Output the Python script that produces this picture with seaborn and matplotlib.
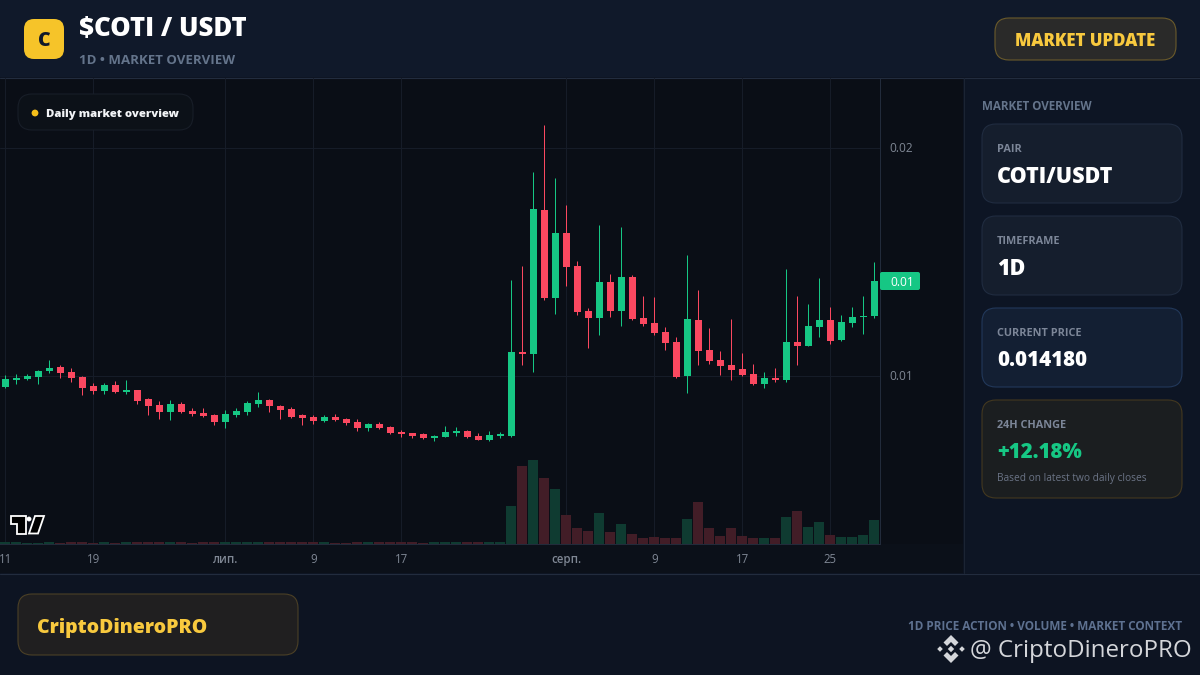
import numpy as np
import pandas as pd
import matplotlib
matplotlib.use('Agg')
import matplotlib.pyplot as plt
import seaborn as sns
from matplotlib.patches import FancyBboxPatch, Polygon, Circle, Rectangle
from matplotlib.transforms import ScaledTranslation

# daily candles, 11 Jun - 29 Aug
days = list(range(80))
open_ = [0.00952, 0.00982, 0.00987, 0.00996, 0.01022, 0.01039, 0.01018, 0.00996, 0.00956, 0.00934,
         0.00961, 0.00930, 0.00939, 0.00899, 0.00873, 0.00842, 0.00877, 0.00846, 0.00838, 0.00829,
         0.00798, 0.00829, 0.00842, 0.00877, 0.00895, 0.00868, 0.00855, 0.00829, 0.00820, 0.00803,
         0.00820, 0.00811, 0.00798, 0.00772, 0.00789, 0.00776, 0.00754, 0.00750, 0.00746, 0.00728,
         0.00732, 0.00750, 0.00759, 0.00737, 0.00719, 0.00737, 0.00737, 0.01105, 0.01096, 0.01728,
         0.01342, 0.01627, 0.01482, 0.01285, 0.01254, 0.01412, 0.01285, 0.01434, 0.01254, 0.01232,
         0.01193, 0.01149, 0.01000, 0.01246, 0.01114, 0.01070, 0.01048, 0.01031, 0.01009, 0.00965,
         0.00991, 0.00982, 0.01149, 0.01132, 0.01215, 0.01246, 0.01158, 0.01232, 0.01259, 0.01263]
high = [0.01004, 0.01009, 0.01009, 0.01026, 0.01070, 0.01048, 0.01035, 0.01000, 0.00969, 0.00969,
        0.00978, 0.00982, 0.00939, 0.00904, 0.00890, 0.00895, 0.00886, 0.00860, 0.00860, 0.00833,
        0.00851, 0.00860, 0.00890, 0.00930, 0.00899, 0.00873, 0.00864, 0.00833, 0.00829, 0.00829,
        0.00833, 0.00816, 0.00811, 0.00794, 0.00798, 0.00781, 0.00763, 0.00750, 0.00750, 0.00741,
        0.00781, 0.00776, 0.00763, 0.00750, 0.00759, 0.00754, 0.01421, 0.01482, 0.01895, 0.02101,
        0.01868, 0.01750, 0.01504, 0.01298, 0.01662, 0.01447, 0.01654, 0.01443, 0.01351, 0.01346,
        0.01215, 0.01171, 0.01531, 0.01377, 0.01211, 0.01110, 0.01250, 0.01101, 0.01053, 0.01018,
        0.01035, 0.01469, 0.01351, 0.01316, 0.01430, 0.01303, 0.01268, 0.01303, 0.01351, 0.01500]
low = [0.00947, 0.00965, 0.00982, 0.00965, 0.01013, 0.00991, 0.00974, 0.00917, 0.00921, 0.00921,
       0.00925, 0.00921, 0.00877, 0.00829, 0.00811, 0.00807, 0.00838, 0.00825, 0.00820, 0.00785,
       0.00772, 0.00820, 0.00829, 0.00864, 0.00842, 0.00811, 0.00816, 0.00785, 0.00789, 0.00798,
       0.00803, 0.00785, 0.00759, 0.00759, 0.00768, 0.00746, 0.00732, 0.00728, 0.00724, 0.00715,
       0.00732, 0.00737, 0.00728, 0.00719, 0.00715, 0.00728, 0.00732, 0.01048, 0.01018, 0.01333,
       0.01272, 0.01395, 0.01268, 0.01123, 0.01180, 0.01259, 0.01219, 0.01246, 0.01219, 0.01180,
       0.01114, 0.00991, 0.00925, 0.01048, 0.01053, 0.01004, 0.00982, 0.01000, 0.00961, 0.00947,
       0.00974, 0.00974, 0.01048, 0.01132, 0.01171, 0.01140, 0.01154, 0.01215, 0.01184, 0.01254]
close = [0.00987, 0.00991, 0.01000, 0.01022, 0.01035, 0.01013, 0.00991, 0.00947, 0.00934, 0.00961,
         0.00930, 0.00939, 0.00890, 0.00868, 0.00842, 0.00877, 0.00842, 0.00833, 0.00825, 0.00798,
         0.00833, 0.00846, 0.00882, 0.00895, 0.00868, 0.00851, 0.00820, 0.00816, 0.00803, 0.00820,
         0.00807, 0.00794, 0.00772, 0.00789, 0.00772, 0.00750, 0.00746, 0.00737, 0.00728, 0.00737,
         0.00754, 0.00759, 0.00732, 0.00719, 0.00741, 0.00746, 0.01105, 0.01096, 0.01732, 0.01342,
         0.01627, 0.01478, 0.01281, 0.01254, 0.01412, 0.01285, 0.01434, 0.01250, 0.01228, 0.01189,
         0.01145, 0.00996, 0.01250, 0.01110, 0.01066, 0.01044, 0.01026, 0.01004, 0.00965, 0.00991,
         0.00982, 0.01149, 0.01132, 0.01219, 0.01246, 0.01154, 0.01237, 0.01259, 0.01263, 0.01418]
# volume in millions
volume = [2, 2, 1, 1, 2, 1, 2, 2, 1, 2,
          1, 2, 2, 2, 2, 2, 2, 1, 2, 2,
          2, 2, 2, 2, 2, 2, 2, 2, 2, 2,
          1, 1, 2, 2, 2, 2, 2, 2, 1, 2,
          2, 2, 2, 2, 2, 2, 38, 78, 84, 66,
          55, 29, 16, 13, 31, 12, 20, 10, 6, 7,
          6, 6, 25, 42, 16, 8, 16, 8, 6, 6,
          6, 27, 33, 17, 22, 9, 7, 7, 9, 24]

date_ticks = [0, 8, 20, 28, 36, 51, 59, 67, 75]
date_labels = ['11', '19', 'лип.', '9', '17', 'серп.', '9', '17', '25']
price_ticks = [0.01, 0.02]

UP = '#16c784'
DOWN = '#fb4860'
VOL_UP = '#0f3b31'
VOL_DOWN = '#421d27'
GRID = '#161c28'
AXIS = '#222b3b'
TICK = '#7f8794'

sns.set_theme(style='dark')
plt.rcParams['font.family'] = ['Open Sans', 'DejaVu Sans']

df = pd.DataFrame({'day': days, 'open': open_, 'high': high, 'low': low, 'close': close, 'volume': volume})
df['dir'] = np.where(df['close'] >= df['open'], 'up', 'down')
df['body'] = (df['close'] - df['open']).abs()
df['base'] = df[['open', 'close']].min(axis=1)

fig = plt.figure(figsize=(12, 6.75), dpi=100, facecolor='#0d1422')


def box(a, x0, y0, x1, y1, fill, edge, r=14, lw=0.8):
    a.add_patch(FancyBboxPatch((x0 + r, y0 + r), x1 - x0 - 2 * r, y1 - y0 - 2 * r,
                               boxstyle=f'round,pad={r},rounding_size={r}',
                               facecolor=fill, edgecolor=edge, linewidth=lw))


# page furniture sits in a pixel coordinate axes behind the chart
ui = fig.add_axes([0, 0, 1, 1], zorder=0)
ui.set_xlim(0, 1200)
ui.set_ylim(675, 0)
ui.axis('off')
ui.add_patch(Rectangle((0, 0), 1200, 77, color='#10192a', lw=0))
ui.add_patch(Rectangle((0, 78), 963, 495, color='#0a0e16', lw=0))
ui.add_patch(Rectangle((0, 544), 963, 29, color='#0b1019', lw=0))
ui.add_patch(Rectangle((964, 78), 236, 495, color='#0d1524', lw=0))
ui.add_patch(Rectangle((0, 574), 1200, 101, color='#0d1422', lw=0))
ui.plot([0, 1200], [77.5, 77.5], color='#222c3e', lw=0.8)
ui.plot([0, 1200], [573.5, 573.5], color='#222c3e', lw=0.8)
ui.plot([963.5, 963.5], [78, 573], color='#1b2433', lw=0.8)

# logo and title
box(ui, 24, 19, 64, 59, '#f6c429', '#f6c429', r=10, lw=0)
ui.text(44, 40.5, 'C', color='#10192a', fontsize=14, fontweight=800, ha='center', va='center')
ui.text(79, 29.5, '$COTI / USDT', color='white', fontsize=18.5, fontweight=800, va='center')
ui.text(79, 60, '1D • MARKET OVERVIEW', color='#64748b', fontsize=9.5, fontweight=700, va='center')
box(ui, 995, 18, 1176, 60, '#2a2a29', '#6a5a2b')
ui.text(1085.5, 41.5, 'MARKET UPDATE', color='#f8c93e', fontsize=12.2, fontweight=800, ha='center', va='center')

# side cards
ui.text(982, 107, 'MARKET OVERVIEW', color='#64748b', fontsize=8.4, fontweight=700, va='center')
cards = [(124, 203, '#151e2d', '#202c40', 'PAIR', 'COTI/USDT', 'white', 15.5),
         (216, 295, '#151e2d', '#202c40', 'TIMEFRAME', '1D', 'white', 15.5),
         (308, 387, '#131f33', '#22385a', 'CURRENT PRICE', '0.014180', 'white', 14.8),
         (400, 498, '#1b1e20', '#43381f', '24H CHANGE', '+12.18%', UP, 14.8)]
for y0, y1, fill, edge, label, value, col, size in cards:
    box(ui, 982, y0, 1182, y1, fill, edge)
    ui.text(997, y0 + 25, label, color='#7c8698', fontsize=7.8, fontweight=700, va='center')
    ui.text(997, y0 + 53, value, color=col, fontsize=size, fontweight=800, va='center')
ui.text(997, 478, 'Based on latest two daily closes', color='#6b7486', fontsize=7.3, va='center')

# footer
box(ui, 18, 594, 298, 655, '#201f20', '#4b4026')
ui.text(37, 628, 'CriptoDineroPRO', color='#f8c93e', fontsize=14, fontweight=800, va='center')
ui.text(1182, 626, '1D PRICE ACTION • VOLUME • MARKET CONTEXT', color='#5e7190', fontsize=8.5,
        fontweight=700, ha='right', va='center')

# price pane
ax = fig.add_axes([0, (675 - 544) / 675, 880 / 1200, 466 / 675], zorder=1)
ax.patch.set_alpha(0)
sns.barplot(data=df[df['dir'] == 'up'], x='day', y='body', bottom=df.loc[df['dir'] == 'up', 'base'].values,
            color=UP, saturation=1, native_scale=True, width=0.636, errorbar=None, linewidth=0, ax=ax, zorder=3)
sns.barplot(data=df[df['dir'] == 'down'], x='day', y='body', bottom=df.loc[df['dir'] == 'down', 'base'].values,
            color=DOWN, saturation=1, native_scale=True, width=0.636, errorbar=None, linewidth=0, ax=ax, zorder=3)
ax.vlines(df['day'], df['low'], df['high'], colors=df['dir'].map({'up': UP, 'down': DOWN}),
          linewidth=0.72, zorder=2, snap=True)
ax.set_xlim(-0.49, 79.51)
ax.set_ylim(0.002641, 0.023079)
ax.set_xlabel('')
ax.set_ylabel('')
ax.set_xticks(date_ticks)
ax.set_xticklabels(date_labels)
ax.set_yticks(price_ticks)
ax.set_yticklabels([f'{p:.2f}' for p in price_ticks])
ax.yaxis.tick_right()
ax.tick_params(axis='x', length=0, pad=6.5, labelsize=8.3, labelcolor=TICK)
ax.tick_params(axis='y', length=0, pad=7, labelsize=8.6, labelcolor=TICK)
for lab in ax.get_xticklabels():
    if lab.get_text() in ('лип.', 'серп.'):
        lab.set_fontweight(600)
for lab in ax.get_yticklabels():
    lab.set_transform(lab.get_transform() + ScaledTranslation(0, 1 / 100, fig.dpi_scale_trans))
ax.grid(True, color=GRID, linewidth=0.72)
ax.set_axisbelow(True)
for name, sp in ax.spines.items():
    sp.set_visible(name in ('right', 'bottom'))
    sp.set_color(AXIS)
    sp.set_linewidth(0.72)

# volume pane shares the days axis
ax_vol = fig.add_axes(ax.get_position(), zorder=2)
ax_vol.patch.set_alpha(0)
sns.barplot(data=df, x='day', y='volume', hue='dir', palette={'up': VOL_UP, 'down': VOL_DOWN},
            saturation=1, native_scale=True, dodge=False, width=0.89, errorbar=None, linewidth=0,
            legend=False, ax=ax_vol)
ax_vol.set_xlim(ax.get_xlim())
ax_vol.set_ylim(0, 466)
ax_vol.axis('off')

# things floating over the chart
top = fig.add_axes([0, 0, 1, 1], zorder=3)
top.set_xlim(0, 1200)
top.set_ylim(675, 0)
top.axis('off')
top.patch.set_alpha(0)
box(top, 18, 94, 193, 130, '#0c1118', '#181e28')
top.add_patch(Circle((35, 113), 3.4, color='#f5bf1a', lw=0))
top.text(46, 114, 'Daily market overview', color='#f2f4f7', fontsize=8.2, fontweight=800, va='center')
box(top, 880, 272, 920, 290, UP, UP, r=2, lw=0)
top.text(902, 282, f'{close[-1]:.2f}', color='white', fontsize=8.6, ha='center', va='center')

# chart logo
top.add_patch(Polygon([(10.5, 516), (25.5, 516), (25.5, 533.5), (17, 533.5), (17, 524), (10.5, 524)],
                      closed=True, facecolor='#000000', edgecolor='white', lw=1.3))
top.add_patch(Polygon([(35, 516), (44, 516), (38, 533.5), (29, 533.5)],
                      closed=True, facecolor='#000000', edgecolor='white', lw=1.3))
top.add_patch(Circle((29, 519), 2.4, color='white', lw=0))

# watermark
mark = '#d4d6da'
top.add_patch(Polygon([(951, 635), (958.5, 642.5), (955, 646), (951, 642), (947, 646), (943.5, 642.5)],
                      closed=True, color=mark, lw=0))
top.add_patch(Polygon([(951, 663), (958.5, 655.5), (955, 652), (951, 656), (947, 652), (943.5, 655.5)],
                      closed=True, color=mark, lw=0))
for cx, s in [(940, 2.8), (962, 2.8), (951, 3.2)]:
    top.add_patch(Polygon([(cx - s, 649), (cx, 649 - s), (cx + s, 649), (cx, 649 + s)],
                          closed=True, color=mark, lw=0))
top.text(970, 651, '@ CriptoDineroPRO', color=mark, fontsize=17.4, fontweight=400, va='center')

fig.savefig('out.png', dpi=100, facecolor=fig.get_facecolor())
